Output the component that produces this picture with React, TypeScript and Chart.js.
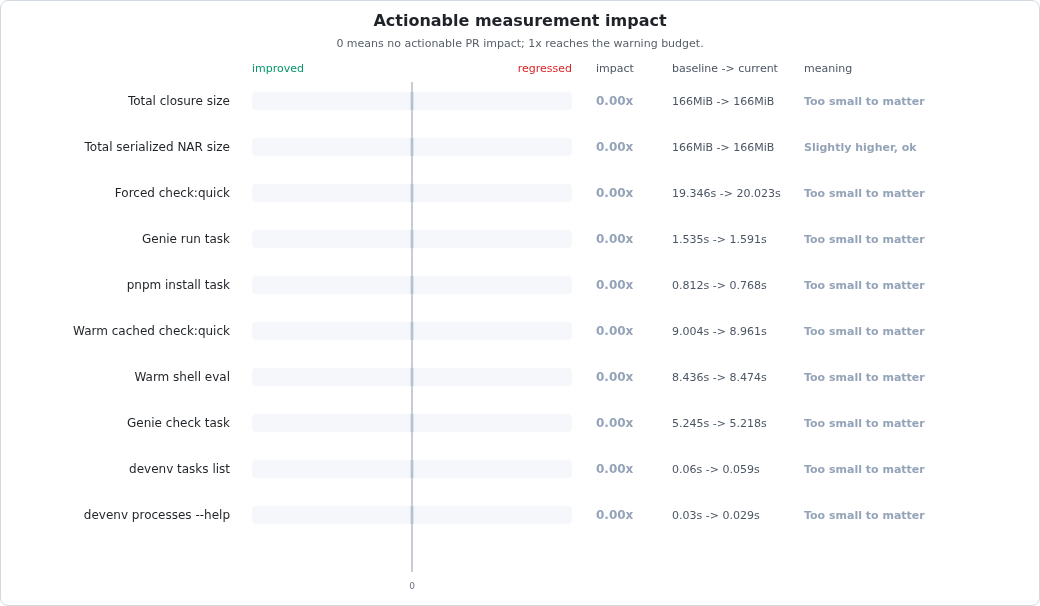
import { useRef, useEffect } from "react";
import Chart from "chart.js/auto";

const metrics = [
  "Total closure size",
  "Total serialized NAR size",
  "Forced check:quick",
  "Genie run task",
  "pnpm install task",
  "Warm cached check:quick",
  "Warm shell eval",
  "Genie check task",
  "devenv tasks list",
  "devenv processes --help",
];
const impact = [0, 0, 0, 0, 0, 0, 0, 0, 0, 0];
const baseline = ["166MiB", "166MiB", "19.346s", "1.535s", "0.812s", "9.004s", "8.436s", "5.245s", "0.06s", "0.03s"];
const current = ["166MiB", "166MiB", "20.023s", "1.591s", "0.768s", "8.961s", "8.474s", "5.218s", "0.059s", "0.029s"];
const meaning = [
  "Too small to matter",
  "Slightly higher, ok",
  "Too small to matter",
  "Too small to matter",
  "Too small to matter",
  "Too small to matter",
  "Too small to matter",
  "Too small to matter",
  "Too small to matter",
  "Too small to matter",
];
const trackRange = [-1, 1];

const FONT = "'DejaVu Sans', sans-serif";

const overlay = {
  id: "overlay",
  beforeDatasetsDraw(chart: any) {
    const ctx = chart.ctx;
    const x0 = chart.scales.x.getPixelForValue(0);
    ctx.save();
    ctx.strokeStyle = "#c8ccd4";
    ctx.lineWidth = 2;
    ctx.beginPath();
    ctx.moveTo(x0, 82);
    ctx.lineTo(x0, 572);
    ctx.stroke();
    ctx.restore();
  },
  afterDraw(chart: any) {
    const ctx = chart.ctx;
    const { left, right } = chart.chartArea;
    const y = chart.scales.y;
    ctx.save();
    ctx.textBaseline = "middle";
    ctx.textAlign = "center";
    ctx.fillStyle = "#1f2328";
    ctx.font = `bold 16px ${FONT}`;
    ctx.fillText("Actionable measurement impact", 520, 22);
    ctx.fillStyle = "#57606a";
    ctx.font = `11px ${FONT}`;
    ctx.fillText("0 means no actionable PR impact; 1x reaches the warning budget.", 520, 44);

    ctx.textAlign = "left";
    ctx.fillStyle = "#059669";
    ctx.fillText("improved", left, 69);
    ctx.textAlign = "right";
    ctx.fillStyle = "#dc2626";
    ctx.fillText("regressed", right, 69);
    ctx.textAlign = "left";
    ctx.fillStyle = "#4b5563";
    ctx.fillText("impact", 596, 69);
    ctx.fillText("baseline -> current", 672, 69);
    ctx.fillText("meaning", 804, 69);

    metrics.forEach((_, i) => {
      const yy = y.getPixelForValue(i) + 1;
      ctx.fillStyle = "#94a3b8";
      ctx.font = `bold 12px ${FONT}`;
      ctx.fillText(impact[i].toFixed(2) + "x", 596, yy);
      ctx.fillStyle = "#4b5563";
      ctx.font = `11px ${FONT}`;
      ctx.fillText(`${baseline[i]} -> ${current[i]}`, 672, yy);
      ctx.fillStyle = "#94a3b8";
      ctx.font = `bold 11px ${FONT}`;
      ctx.fillText(meaning[i], 804, yy);
    });
    ctx.restore();
  },
};

const App = () => {
  const canvasRef = useRef<HTMLCanvasElement>(null);

  useEffect(() => {
    document.body.style.margin = "0";
    const ctx = canvasRef.current!.getContext("2d")!;
    const chart = new Chart(ctx, {
      type: "bar",
      data: {
        labels: metrics,
        datasets: [
          {
            label: "impact",
            data: impact,
            backgroundColor: "#b3c1d4",
            barThickness: 18,
            minBarLength: 2,
            grouped: false,
          },
          {
            label: "track",
            data: metrics.map(() => trackRange) as any,
            backgroundColor: "#f5f7fa",
            borderRadius: 5,
            borderSkipped: false,
            barThickness: 18,
            grouped: false,
          },
        ],
      },
      options: {
        indexAxis: "y",
        responsive: false,
        animation: false,
        layout: { padding: { top: 78, left: 0, right: 468, bottom: 0 } },
        plugins: {
          legend: { display: false },
          tooltip: { enabled: false },
          title: { display: false },
        },
        scales: {
          x: {
            min: -1,
            max: 1,
            border: { display: false },
            grid: { display: false, drawTicks: false },
            ticks: {
              stepSize: 1,
              padding: 43,
              color: "#6b7280",
              font: { family: FONT, size: 9 },
              callback: (v: any) => (v === 0 ? "0" : ""),
            },
            afterFit: (s: any) => {
              s.height = 68;
            },
          },
          y: {
            border: { display: false },
            grid: { display: false, drawTicks: false },
            ticks: {
              padding: 22,
              labelOffset: 1,
              color: "#1f2328",
              font: { family: FONT, size: 12 },
            },
            afterFit: (s: any) => {
              s.width = 252;
            },
          },
        },
      },
      plugins: [overlay],
    });
    return () => {
      chart.destroy();
    };
  }, []);

  return (
    <div style={{ position: "relative", width: 1040, height: 606, background: "#fff" }}>
      <canvas ref={canvasRef} width={1040} height={606} style={{ position: "absolute", left: 0, top: 0 }} />
      <div
        style={{
          position: "absolute",
          inset: 0,
          border: "1px solid #d3d9e1",
          borderRadius: 8,
          boxSizing: "border-box",
          pointerEvents: "none",
        }}
      />
    </div>
  );
};

export default App;
